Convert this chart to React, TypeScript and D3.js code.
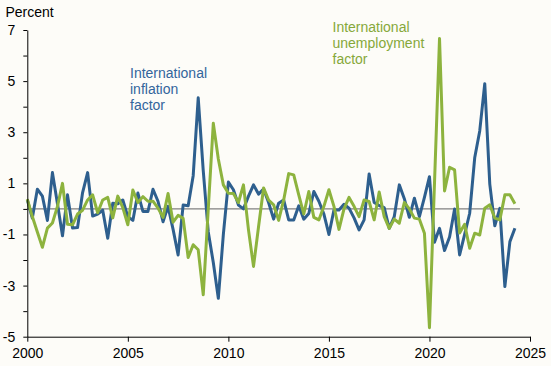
import React, { useRef, useEffect } from "react";
import * as d3 from "d3";

// quarterly, first point = 2000 Q1
const startYear = 2000;

const inflation = [
  0.35, -0.36, 0.77, 0.5, -0.45, 1.42, 0.2, -1.05, 0.55, -0.75,
  -0.73, 0.64, 1.42, -0.28, -0.2, -0.05, -1.15, 0.22, 0.2, 0.35,
  -0.3, -0.45, 0.62, -0.1, -0.1, 0.77, 0.3, -0.5, 0.1, -0.8,
  -1.8, 0.15, 0.12, 1.3, 4.35, 1.5, -0.9, -2.1, -3.5, -1.0,
  1.05, 0.75, 0.15, 0.0, 0.5, 0.94, 0.58, 0.78, 0.25, -0.4,
  0.22, 0.35, -0.43, -0.43, 0.12, -0.4, -0.18, 0.68, 0.3, -0.2,
  -1.0, -0.04, -0.04, 0.18, 0.03, -0.35, -0.82, -0.43, 1.37, 0.25,
  0.13, 0.05, -0.76, -0.3, 0.94, 0.4, -0.33, 0.42, -0.3, 0.45,
  1.26, -1.3, -0.76, -1.63, -1.1, 0.0, -1.8, -1.0, -0.17, 2.0,
  3.05, 4.9, 0.97, -0.66, 0.02, -3.04, -1.28, -0.76,
];

const unemployment = [
  0.38, -0.3, -0.9, -1.5, -0.75, -0.55, 0.1, 1.0, -0.6, -0.62,
  -0.2, -0.05, 0.35, 0.55, -0.15, 0.35, 0.45, -0.35, 0.5, 0.05,
  -0.62, 0.74, 0.25, 0.48, 0.3, 0.3, 0.03, -0.33, 0.6, -0.52,
  -0.25, -0.37, -1.9, -1.4, -1.6, -3.36, 0.0, 3.35, 1.95, 0.94,
  0.61, 0.6, 0.25, 0.94, -0.82, -2.25, -0.7, 0.82, 0.35, 0.16,
  -0.45, 0.35, 1.38, 1.33, 0.55, -0.2, 0.68, -0.33, -0.43, 0.1,
  0.75, 0.1, -0.8, 0.0, 0.45, 0.1, -0.3, 0.35, 0.29, -0.43,
  0.66, -0.3, -0.76, -0.4, -0.56, 0.25, 0.0, -0.36, -0.4, -0.95,
  -4.65, 1.0, 6.67, 0.7, 1.63, 1.53, -0.94, -0.6, -1.54, -0.95,
  -1.02, 0.03, 0.16, -0.36, -0.43, 0.55, 0.55, 0.2,
];

const yTicks = [-5, -4, -3, -2, -1, 0, 1, 2, 3, 4, 5, 6, 7];
const yLabels = [-5, -3, -1, 1, 3, 5, 7];
const xTicks = [2000, 2005, 2010, 2015, 2020, 2025];

const inflationLabel = ["International", "inflation", "factor"];
const unemploymentLabel = ["International", "unemployment", "factor"];

const BLUE = "#2e5f8e";
const GREEN = "#8db33e";
const FONT = "'Liberation Sans', Arial, sans-serif";

function App() {
  const svgRef = useRef<SVGSVGElement>(null);

  useEffect(() => {
    const width = 551;
    const height = 366;
    const svg = d3.select(svgRef.current);
    svg.selectAll("*").remove();

    const x = d3.scaleLinear().domain([2000, 2025]).range([27.3, 530]);
    const y = d3.scaleLinear().domain([-5, 7]).range([336.7, 30]);

    svg.append("rect").attr("width", width).attr("height", height).attr("fill", "#fdfcf8");

    // zero line
    const lastYear = startYear + inflation.length / 4;
    svg
      .append("line")
      .attr("x1", x(2000))
      .attr("x2", x(lastYear))
      .attr("y1", y(0))
      .attr("y2", y(0))
      .attr("stroke", "#808080")
      .attr("stroke-width", 1.2);

    const line = d3
      .line<number>()
      .x((d, i) => x(startYear + i / 4))
      .y((d) => y(d));

    svg
      .append("path")
      .datum(inflation)
      .attr("d", line)
      .attr("fill", "none")
      .attr("stroke", BLUE)
      .attr("stroke-width", 3)
      .attr("stroke-linejoin", "round");

    svg
      .append("path")
      .datum(unemployment)
      .attr("d", line)
      .attr("fill", "none")
      .attr("stroke", GREEN)
      .attr("stroke-width", 3)
      .attr("stroke-linejoin", "round");

    // y axis
    const yAxis = d3
      .axisLeft(y)
      .tickValues(yTicks)
      .tickSize(4)
      .tickSizeOuter(0)
      .tickPadding(8)
      .tickFormat((d) => (yLabels.includes(d as number) ? String(d) : ""));
    const gy = svg.append("g").attr("transform", `translate(${x(2000)},0)`).call(yAxis);

    // x axis
    const xAxis = d3
      .axisBottom(x)
      .tickValues(xTicks)
      .tickSize(5)
      .tickSizeOuter(0)
      .tickPadding(6)
      .tickFormat(d3.format("d"));
    const gx = svg.append("g").attr("transform", `translate(0,${y(-5)})`).call(xAxis);

    [gx, gy].forEach((g) => {
      g.select(".domain").attr("stroke", "#000");
      g.selectAll(".tick line").attr("stroke", "#000");
      g.selectAll(".tick text")
        .attr("fill", "#000")
        .style("font-family", FONT)
        .style("font-size", "14px");
    });

    svg
      .append("text")
      .attr("x", 5.5)
      .attr("y", 17)
      .attr("fill", "#000")
      .style("font-family", FONT)
      .style("font-size", "14px")
      .text("Percent");

    const label = (lines: string[], lx: number, ly: number, color: string) => {
      svg
        .append("g")
        .selectAll("text")
        .data(lines)
        .join("text")
        .attr("x", lx)
        .attr("y", (d, i) => ly + i * 16.3)
        .attr("fill", color)
        .style("font-family", FONT)
        .style("font-size", "14px")
        .text((d) => d);
    };

    label(inflationLabel, 130, 77.5, "#33659c");
    label(unemploymentLabel, 332.5, 31.5, "#86a83a");
  }, []);

  return (
    <svg
      ref={svgRef}
      width={551}
      height={366}
      style={{ position: "absolute", left: 0, top: 0, display: "block" }}
    />
  );
}

export default App;
